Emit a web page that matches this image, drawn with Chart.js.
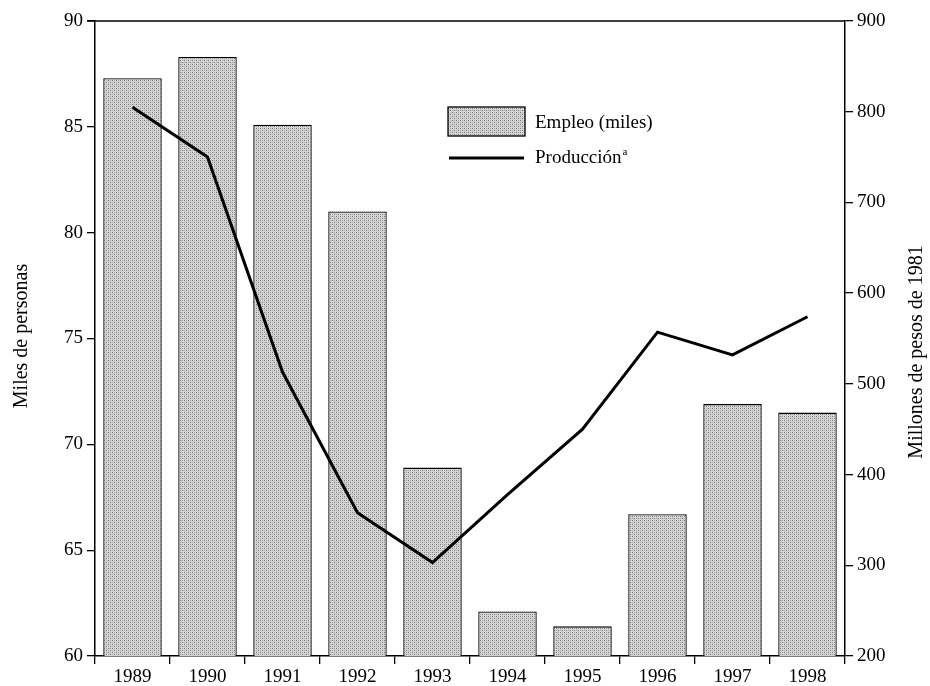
<!DOCTYPE html>
<html>
<head>
<meta charset="utf-8">
<script src="https://cdn.jsdelivr.net/npm/chart.js@4.4.1/dist/chart.umd.min.js"></script>
<style>
  html, body { margin: 0; padding: 0; background: #fff; }
  #wrap { width: 930px; height: 686px; }
</style>
</head>
<body>
<div id="wrap"><canvas id="empleoChart" width="930" height="686"></canvas></div>
<script>
const years = ['1989', '1990', '1991', '1992', '1993', '1994', '1995', '1996', '1997', '1998'];
const empleo = [87.3, 88.3, 85.1, 81.0, 68.9, 62.1, 61.4, 66.7, 71.9, 71.5]; // miles de personas
const produccion = [805, 750, 513, 358, 303, 378, 450, 557, 532, 574]; // millones de pesos de 1981

const FONT = "'Liberation Serif', 'Times New Roman', serif";

// stippled grey fill like the printed screen
function makeDots() {
    const c = document.createElement('canvas');
    c.width = 4; c.height = 4;
    const g = c.getContext('2d');
    g.fillStyle = '#d4d4d4';
    g.fillRect(0, 0, 4, 4);
    g.fillStyle = '#7a7a7a';
    g.fillRect(0, 0, 1, 1);
    g.fillRect(2, 2, 1, 1);
    g.fillStyle = '#a8a8a8';
    g.fillRect(2, 0, 1, 1);
    g.fillRect(0, 2, 1, 1);
    return g.createPattern(c, 'repeat');
}
const dots = makeDots();

const extras = {
    id: 'extras',
    afterDraw(chart) {
        const { ctx, chartArea: a } = chart;
        ctx.save();
        // top frame line
        ctx.strokeStyle = '#000';
        ctx.lineWidth = 1.5;
        ctx.beginPath();
        ctx.moveTo(a.left - 8, a.top);
        ctx.lineTo(a.right, a.top);
        ctx.stroke();

        // axis titles, both reading bottom to top
        ctx.fillStyle = '#000';
        ctx.font = '20px ' + FONT;
        ctx.textAlign = 'center';
        ctx.textBaseline = 'middle';
        ctx.save();
        ctx.translate(22, 336);
        ctx.rotate(-Math.PI / 2);
        ctx.fillText('Miles de personas', 0, 0);
        ctx.restore();
        ctx.save();
        ctx.translate(917, 352);
        ctx.rotate(-Math.PI / 2);
        ctx.fillText('Millones de pesos de 1981', 0, 0);
        ctx.restore();

        // legend
        ctx.fillStyle = dots;
        ctx.fillRect(448, 107, 77, 29);
        ctx.lineWidth = 1.3;
        ctx.strokeRect(448, 107, 77, 29);
        ctx.lineWidth = 3;
        ctx.beginPath();
        ctx.moveTo(449, 158);
        ctx.lineTo(524, 158);
        ctx.stroke();
        ctx.fillStyle = '#000';
        ctx.textAlign = 'left';
        ctx.font = '19px ' + FONT;
        ctx.fillText('Empleo (miles)', 535, 123);
        ctx.fillText('Producción', 535, 158);
        const w = ctx.measureText('Producción').width;
        ctx.font = '11px ' + FONT;
        ctx.fillText('a', 535 + w + 1, 152);
        ctx.restore();
    }
};

const ctx = document.getElementById('empleoChart').getContext('2d');

new Chart(ctx, {
    type: 'bar',
    data: {
        labels: years,
        datasets: [
            {
                type: 'line',
                label: 'Producción',
                data: produccion,
                yAxisID: 'yProd',
                borderColor: '#000',
                borderWidth: 3,
                pointRadius: 0,
                tension: 0,
                fill: false,
                order: 0
            },
            {
                type: 'bar',
                label: 'Empleo (miles)',
                data: empleo,
                yAxisID: 'yEmp',
                backgroundColor: dots,
                borderColor: '#000',
                borderWidth: 1.3,
                borderSkipped: false,
                barPercentage: 0.78,
                categoryPercentage: 1,
                order: 1
            }
        ]
    },
    options: {
        responsive: false,
        animation: false,
        layout: { padding: { top: 21, left: 0, right: 0, bottom: 0 } },
        plugins: {
            legend: { display: false },
            tooltip: { enabled: false }
        },
        scales: {
            x: {
                grid: { drawOnChartArea: false, drawTicks: true, tickLength: 8, color: '#000', lineWidth: 1.3 },
                border: { display: true, color: '#000', width: 1.5 },
                ticks: { color: '#000', font: { family: FONT, size: 19 }, padding: 2, maxRotation: 0 },
                afterFit(scale) { scale.height = 30; }
            },
            yEmp: {
                position: 'left',
                min: 60,
                max: 90,
                ticks: { stepSize: 5, color: '#000', font: { family: FONT, size: 19 }, padding: 4 },
                grid: { drawOnChartArea: false, drawTicks: true, tickLength: 8, color: '#000', lineWidth: 1.3 },
                border: { display: true, color: '#000', width: 1.5 },
                afterFit(scale) { scale.width = 95; }
            },
            yProd: {
                position: 'right',
                min: 200,
                max: 900,
                ticks: { stepSize: 100, color: '#000', font: { family: FONT, size: 19 }, padding: 4 },
                grid: { drawOnChartArea: false, drawTicks: true, tickLength: 8, color: '#000', lineWidth: 1.3 },
                border: { display: true, color: '#000', width: 1.5 },
                afterFit(scale) { scale.width = 85; }
            }
        }
    },
    plugins: [extras]
});
</script>
</body>
</html>
